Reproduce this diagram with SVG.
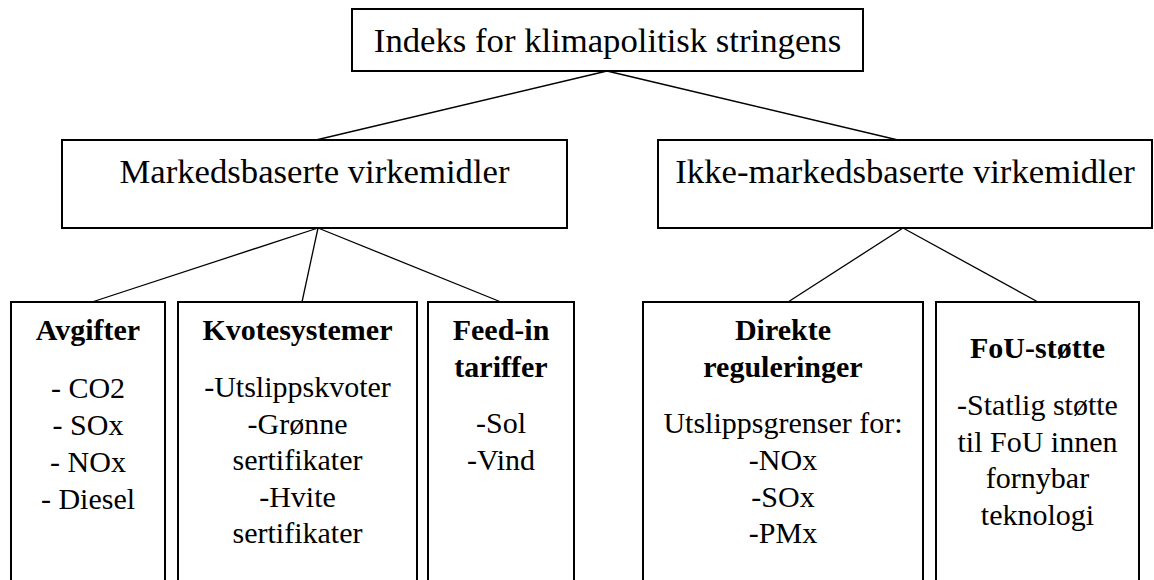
<svg xmlns="http://www.w3.org/2000/svg" width="1154" height="580" viewBox="0 0 1154 580">
<style>
.box{fill:#fff;stroke:#000;stroke-width:2}
.ln{stroke:#000;stroke-width:1.3;fill:none}
text{font-family:"Liberation Serif","Times New Roman",serif;fill:#000;text-anchor:middle}
.h{font-size:34.7px}
.t{font-size:30px}
.b{font-size:30px;font-weight:bold}
</style>
<rect width="1154" height="580" fill="#fff"/>
<g id="connectors">
<line class="ln" x1="607" y1="71" x2="316" y2="140"/>
<line class="ln" x1="607" y1="71" x2="898" y2="140"/>
<line class="ln" x1="318" y1="228" x2="92" y2="302"/>
<line class="ln" x1="318" y1="228" x2="302" y2="302"/>
<line class="ln" x1="318" y1="228" x2="501" y2="302"/>
<line class="ln" x1="903" y1="228" x2="788" y2="302"/>
<line class="ln" x1="903" y1="228" x2="1038" y2="302"/>
</g>
<g id="root">
<rect class="box" x="352" y="9" width="511" height="62"/>
<text class="h" x="607.5" y="52">Indeks for klimapolitisk stringens</text>
</g>
<g id="markedsbaserte">
<rect class="box" x="62" y="140" width="505" height="88"/>
<text class="h" x="314.5" y="183">Markedsbaserte virkemidler</text>
</g>
<g id="ikke-markedsbaserte">
<rect class="box" x="658" y="140" width="494" height="88"/>
<text class="h" x="905" y="183">Ikke-markedsbaserte virkemidler</text>
</g>
<g id="avgifter">
<rect class="box" x="11" y="302" width="154" height="320"/>
<text class="b" x="88" y="340">Avgifter</text>
<text class="t" x="88" y="398">- CO2</text>
<text class="t" x="88" y="435">- SOx</text>
<text class="t" x="88" y="472">- NOx</text>
<text class="t" x="88" y="509">- Diesel</text>
</g>
<g id="kvotesystemer">
<rect class="box" x="178" y="302" width="239" height="320"/>
<text class="b" x="297.5" y="340">Kvotesystemer</text>
<text class="t" x="297.5" y="397">-Utslippskvoter</text>
<text class="t" x="297.5" y="434">-Grønne</text>
<text class="t" x="297.5" y="470">sertifikater</text>
<text class="t" x="297.5" y="507">-Hvite</text>
<text class="t" x="297.5" y="543">sertifikater</text>
</g>
<g id="feed-in">
<rect class="box" x="428" y="302" width="146" height="320"/>
<text class="b" x="501" y="340">Feed-in</text>
<text class="b" x="501" y="377">tariffer</text>
<text class="t" x="501" y="433">-Sol</text>
<text class="t" x="501" y="470">-Vind</text>
</g>
<g id="direkte">
<rect class="box" x="643" y="302" width="280" height="320"/>
<text class="b" x="783" y="340">Direkte</text>
<text class="b" x="783" y="377">reguleringer</text>
<text class="t" x="783" y="433">Utslippsgrenser for:</text>
<text class="t" x="783" y="470">-NOx</text>
<text class="t" x="783" y="507">-SOx</text>
<text class="t" x="783" y="543">-PMx</text>
</g>
<g id="fou">
<rect class="box" x="936" y="302" width="203" height="320"/>
<text class="b" x="1037.5" y="358">FoU-støtte</text>
<text class="t" x="1037.5" y="415">-Statlig støtte</text>
<text class="t" x="1037.5" y="452">til FoU innen</text>
<text class="t" x="1037.5" y="488">fornybar</text>
<text class="t" x="1037.5" y="525">teknologi</text>
</g>
</svg>
